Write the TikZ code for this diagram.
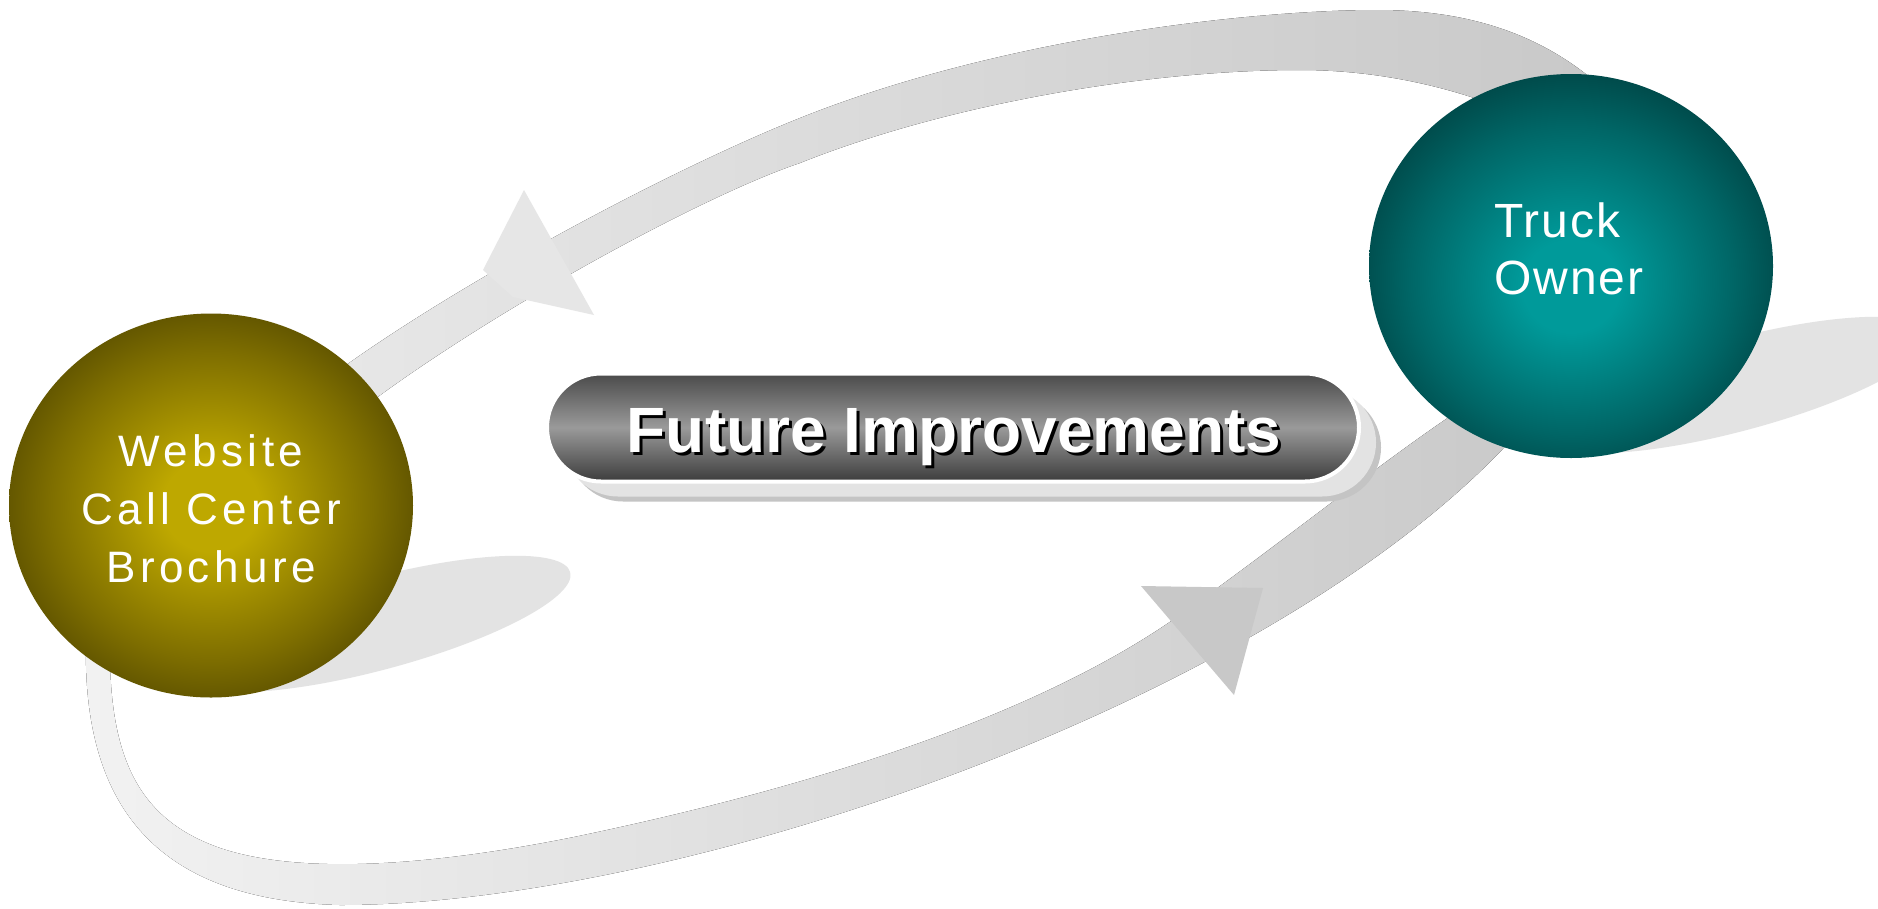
\documentclass[tikz,border=0pt]{standalone}
\usepackage{fontspec}
\setmainfont{Liberation Sans}
\newfontfamily\leftballfont[LetterSpace=10]{Liberation Sans}
\newfontfamily\rightballfont[LetterSpace=4]{Liberation Sans}
\usetikzlibrary{shapes.geometric,shapes.misc}
\definecolor{goldA}{HTML}{BEA800}
\definecolor{goldB}{HTML}{7E6E00}
\definecolor{goldC}{HTML}{463D00}
\definecolor{tealA}{HTML}{009A9A}
\definecolor{tealB}{HTML}{006666}
\definecolor{tealC}{HTML}{003838}
\definecolor{upL}{HTML}{E8E8E8}
\definecolor{upR}{HTML}{C8C8C8}
\definecolor{lowL}{HTML}{F2F2F2}
\definecolor{lowR}{HTML}{C9C9C9}
\definecolor{shadowgray}{HTML}{E3E3E3}
\definecolor{arrowA}{HTML}{E6E6E6}
\definecolor{arrowB}{HTML}{C8C8C8}
\definecolor{pillTop}{HTML}{4A4A4A}
\definecolor{pillMid}{HTML}{9A9A9A}
\definecolor{pillBot}{HTML}{3C3C3C}
\definecolor{pillShA}{HTML}{E3E3E3}
\definecolor{pillShB}{HTML}{C4C4C4}
\pgfdeclareradialshading{goldball}{\pgfpoint{0bp}{0bp}}{color(0bp)=(goldA); color(6bp)=(goldA); color(20bp)=(goldB); color(31bp)=(goldC); color(50bp)=(goldC)}
\pgfdeclareradialshading{tealball}{\pgfpoint{0bp}{-3bp}}{color(0bp)=(tealA); color(6bp)=(tealA); color(20bp)=(tealB); color(31bp)=(tealC); color(50bp)=(tealC)}
\tikzset{
  ball/.style={ellipse, minimum width=404pt, minimum height=384pt, inner sep=0pt},
  balltext/.style={text=white, inner sep=0pt},
  pillshape/.style={rounded rectangle, minimum width=812pt, minimum height=108pt, inner sep=0pt},
  titletext/.style={font=\bfseries\fontsize{64pt}{70pt}\selectfont, inner sep=0pt, anchor=base},
  floorshadow/.style={fill=shadowgray},
}
\begin{document}
\begin{tikzpicture}[x=1pt,y=-1pt]
\path[use as bounding box] (0,0) rectangle (1878,908);
\clip (0,0) rectangle (1878,908);
\fill[white] (0,0) rectangle (1878,908);
% floor shadows
\coordinate (lsh) at (377,624);
\coordinate (rsh) at (1737,385);
\fill[floorshadow, rotate around={15:(lsh)}] (lsh) ellipse [x radius=200pt, y radius=46pt];
\fill[floorshadow, rotate around={15:(rsh)}] (rsh) ellipse [x radius=200pt, y radius=46pt];
% upper band
\fill[left color=upL, right color=upR]
  (300,400) .. controls (410,310) and (650,178) .. (800,118)
  .. controls (1000,38) and (1250,10) .. (1377,10)
  .. controls (1480,10) and (1560,40) .. (1625,110)
  -- (1600,160) .. controls (1530,110) and (1420,70) .. (1300,70)
  .. controls (1150,70) and (950,103) .. (800,163)
  .. controls (690,200) and (450,335) .. (335,430) -- cycle;
% lower band
\fill[left color=lowL, right color=lowR]
  (1500,385) .. controls (1420,430) and (1300,530) .. (1177,617)
  .. controls (1030,720) and (800,790) .. (574,837)
  .. controls (430,866) and (300,875) .. (220,848)
  .. controls (140,820) and (108,760) .. (110,640)
  -- (86,640) .. controls (82,800) and (150,900) .. (340,905)
  .. controls (700,905) and (1330,680) .. (1545,400) -- cycle;
% arrowheads
\coordinate (a1) at (524,190);
\coordinate (a2) at (594,315);
\coordinate (a3) at (513,297);
\coordinate (a4) at (483,270);
\fill[arrowA] (a1) -- (a2) -- (a3) -- (a4) -- cycle;
\coordinate (b1) at (1141,586);
\coordinate (b2) at (1263,588);
\coordinate (b3) at (1234,695);
\fill[arrowB] (b1) -- (b2) -- (b3) -- cycle;
% central pill
\node[pillshape, fill=pillShB] (fishadowb) at (975,447.5) {};
\node[pillshape, fill=pillShA] (fishadowa) at (970,442.5) {};
\node[pillshape, draw=white, line width=4pt, top color=pillTop, bottom color=pillBot, middle color=pillMid] (fi) at (953,427.5) {};
\node[titletext, text=black] (fitextshadow) at (957,455) {Future Improvements};
\node[titletext, text=white] (fitext) at (954,452) {Future Improvements};
% balls
\node[ball, shading=goldball] (web) at (211,505.5) {};
\node[balltext, align=center, font=\leftballfont\fontsize{44pt}{58pt}\selectfont] (webtext) at (211,509) {Website\\Call Center\\Brochure};
\node[ball, shading=tealball] (truck) at (1571,266) {};
\node[balltext, align=left, font=\rightballfont\fontsize{48pt}{57pt}\selectfont] (trucktext) at (1569,249) {Truck\\Owner};
\end{tikzpicture}
\end{document}
